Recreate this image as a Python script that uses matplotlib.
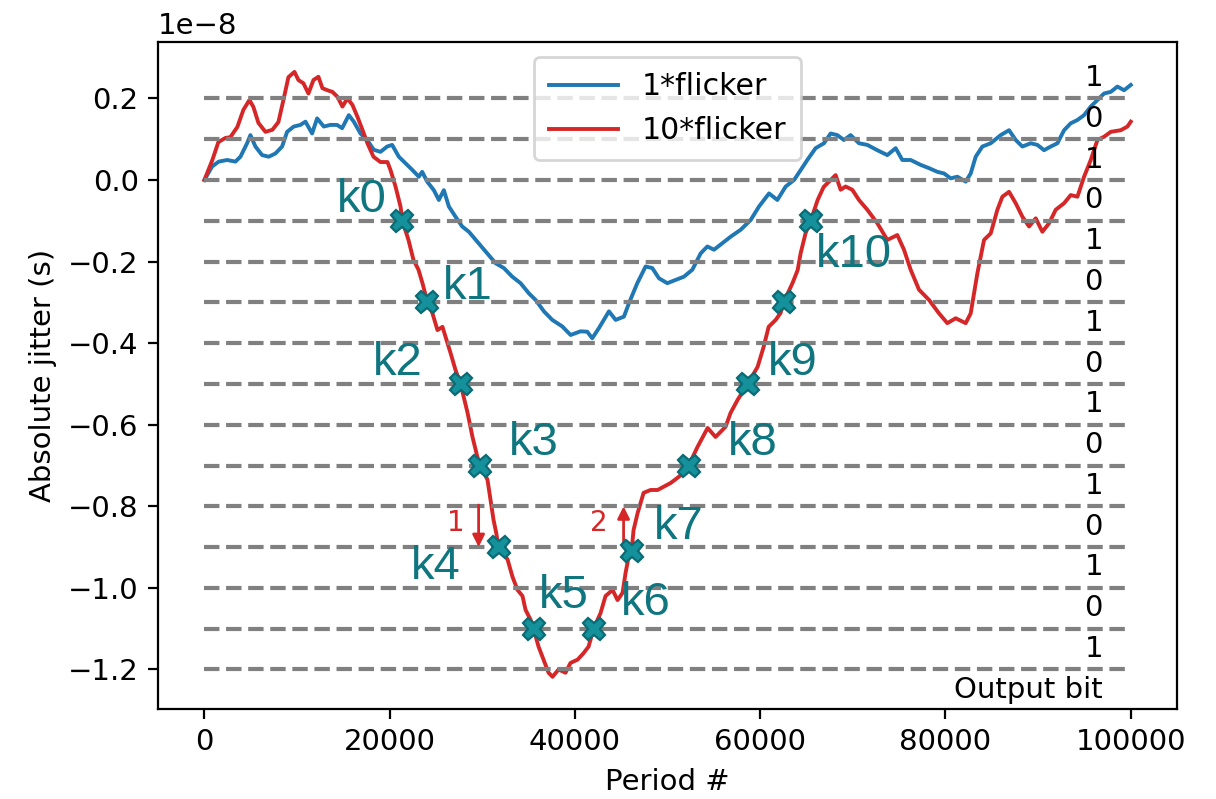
import matplotlib
matplotlib.use("Agg")
import matplotlib.pyplot as plt
import numpy as np

# jitter values are in units of 1e-8 s
UNIT = 1e-8

period_1x = [0, 828, 1548, 2448, 3348, 3888, 4608, 4968, 5508, 6228, 6948, 7668, 8388, 8928,
             9648, 10368, 10908, 11628, 12168, 12888, 13608, 14328, 14868, 15588, 16128, 16848,
             17568, 18288, 19008, 19728, 20268, 20988, 21708, 22428, 23148, 23508, 24048, 24768,
             25308, 25848, 26388, 27108, 27828, 28550, 29450, 30530, 31430, 32330, 33230, 34130,
             35030, 35750, 36650, 37550, 38630, 39530, 40610, 41328, 41868, 42590, 43670, 44390,
             45290, 45830, 46730, 47630, 48350, 49070, 49970, 50870, 51770, 52670, 53570, 54290,
             55010, 55910, 56810, 57890, 58970, 59870, 60950, 61850, 62750, 63650, 64360, 65080,
             65980, 66880, 67600, 68320, 69040, 69760, 70660, 71560, 72640, 73720, 74620, 75340,
             76240, 77320, 78220, 79120, 79840, 80560, 81280, 82180, 82720, 83260, 83980, 84880,
             85960, 86860, 87580, 88300, 89200, 89920, 90640, 91360, 92080, 92800, 93520, 94240,
             94960, 95680, 96400, 97120, 97840, 98560, 99280, 100000]
jitter_1x = [0.0, 0.033, 0.045, 0.049, 0.045, 0.057, 0.09, 0.11, 0.082, 0.061, 0.057, 0.065, 0.082,
             0.118, 0.131, 0.135, 0.143, 0.114, 0.151, 0.131, 0.135, 0.135, 0.127, 0.159, 0.143,
             0.114, 0.098, 0.074, 0.069, 0.082, 0.086, 0.057, 0.041, 0.025, 0.008, 0.02, -0.004,
             -0.025, -0.049, -0.025, -0.065, -0.09, -0.114, -0.127, -0.151, -0.18, -0.204, -0.216,
             -0.237, -0.253, -0.278, -0.294, -0.322, -0.343, -0.359, -0.38, -0.371, -0.372, -0.388,
             -0.363, -0.322, -0.343, -0.335, -0.302, -0.253, -0.212, -0.216, -0.241, -0.253,
             -0.245, -0.237, -0.22, -0.18, -0.163, -0.171, -0.155, -0.139, -0.122, -0.098, -0.065,
             -0.033, -0.049, -0.016, 0.0, 0.024, 0.049, 0.078, 0.09, 0.114, 0.11, 0.098, 0.11,
             0.09, 0.086, 0.073, 0.061, 0.078, 0.049, 0.049, 0.037, 0.029, 0.02, 0.016, 0.004,
             0.008, -0.004, 0.016, 0.057, 0.082, 0.09, 0.11, 0.122, 0.098, 0.082, 0.09, 0.086,
             0.073, 0.082, 0.09, 0.122, 0.139, 0.147, 0.159, 0.18, 0.196, 0.212, 0.216, 0.229,
             0.22, 0.233]

period_10x = [0, 860, 1510, 2270, 2800, 3560, 4210, 4860, 5290, 5830, 6590, 7340, 7990, 8530,
              9070, 9720, 10150, 10690, 11230, 11770, 12310, 12740, 13280, 13820, 14360, 14900,
              15440, 15980, 16520, 17060, 17600, 18250, 19000, 19760, 20080, 20630, 21170, 21370,
              22030, 22570, 23110, 23540, 24080, 24620, 25160, 25700, 26030, 26570, 27110, 27650,
              28400, 28940, 29480, 29800, 30560, 30890, 31210, 31500, 31750, 32720, 33260, 33800,
              34340, 34670, 35210, 35530, 36070, 36610, 37150, 37580, 38230, 38980, 39520, 40280,
              40930, 41470, 42010, 42760, 43300, 44060, 44600, 45140, 45460, 45790, 46110, 46330,
              46760, 47080, 47410, 48160, 48920, 49570, 50320, 51080, 51730, 52270, 53240, 54320,
              55180, 56260, 56800, 57560, 58640, 59720, 60370, 60910, 61670, 62200, 62530, 63500,
              64040, 64360, 64900, 65440, 66200, 66850, 67600, 68140, 68680, 69220, 69940, 70660,
              71560, 72640, 73720, 74800, 75520, 76240, 77140, 78220, 79300, 80200, 81100, 82180,
              82720, 83440, 84160, 84880, 85600, 86140, 86860, 87580, 88300, 89020, 89740, 90460,
              91180, 91900, 92800, 93520, 94240, 94960, 95680, 96400, 97120, 97840, 98920, 99640,
              100000]
jitter_10x = [0.0, 0.049, 0.093, 0.103, 0.105, 0.13, 0.172, 0.196, 0.179, 0.14, 0.118, 0.123,
              0.142, 0.196, 0.252, 0.265, 0.245, 0.237, 0.212, 0.245, 0.253, 0.225, 0.22, 0.216,
              0.204, 0.18, 0.2, 0.184, 0.155, 0.123, 0.09, 0.057, 0.044, 0.044, 0.025, -0.016,
              -0.065, -0.1, -0.147, -0.196, -0.22, -0.253, -0.3, -0.327, -0.368, -0.36, -0.384,
              -0.424, -0.466, -0.5, -0.57, -0.63, -0.68, -0.7, -0.735, -0.784, -0.833, -0.865,
              -0.9, -0.93, -0.973, -1.005, -1.02, -1.054, -1.078, -1.1, -1.144, -1.176, -1.208,
              -1.218, -1.2, -1.208, -1.184, -1.176, -1.16, -1.144, -1.1, -1.062, -1.02, -1.005,
              -1.03, -1.012, -0.964, -0.924, -0.91, -0.858, -0.817, -0.792, -0.767, -0.76, -0.76,
              -0.752, -0.743, -0.73, -0.718, -0.7, -0.654, -0.608, -0.63, -0.605, -0.571, -0.539,
              -0.5, -0.458, -0.409, -0.36, -0.343, -0.326, -0.3, -0.252, -0.221, -0.18, -0.13,
              -0.1, -0.049, -0.017, 0.0, 0.012, -0.024, -0.016, -0.024, -0.049, -0.073, -0.106,
              -0.147, -0.135, -0.171, -0.22, -0.269, -0.294, -0.327, -0.351, -0.339, -0.351,
              -0.327, -0.229, -0.147, -0.131, -0.073, -0.041, -0.029, -0.057, -0.09, -0.114,
              -0.094, -0.127, -0.106, -0.073, -0.057, -0.037, -0.041, 0.008, 0.049, 0.098, 0.106,
              0.118, 0.122, 0.131, 0.143]

# threshold crossings of the 10*flicker trace
key_period = [21370, 24080, 27650, 29800, 31750, 35530, 42010, 46110, 52270, 58640, 62530, 65440]
key_jitter = [-0.1, -0.3, -0.5, -0.7, -0.9, -1.1, -1.1, -0.91, -0.7, -0.5, -0.3, -0.1]
key_names = ["k0", "k1", "k2", "k3", "k4", "k5", "k6", "k7", "k8", "k9", "", "k10"]
# label anchor for each key (period, jitter)
key_label_at = [(16950, -0.05), (28400, -0.262), (20840, -0.449), (35530, -0.645),
                (24950, -0.948), (38770, -1.02), (47620, -1.037), (51190, -0.85),
                (59180, -0.645), (63500, -0.449), None, (70090, -0.184)]

thresholds = np.round(np.arange(-1.2, 0.21, 0.1), 2)
bit_levels = [0.25, 0.15, 0.05, -0.05, -0.15, -0.25, -0.35, -0.45, -0.55, -0.65, -0.75,
              -0.85, -0.95, -1.05, -1.15]
bit_values = ["1", "0", "1", "0", "1", "0", "1", "0", "1", "0", "1", "0", "1", "0", "1"]

BLUE = "#1f77b4"
RED = "#d62728"
TEAL = "#14919b"
TEAL_DARK = "#0b6b74"
TEAL_TEXT = "#0f7680"
GRAY = "#808080"

plt.rcParams["font.family"] = "DejaVu Sans"
fig = plt.figure(figsize=(6.08, 3.995), dpi=200)
ax = fig.add_axes([0.130, 0.1126, 0.838, 0.8347])

ax.plot(np.array(period_1x), np.array(jitter_1x) * UNIT, color=BLUE, lw=1.4,
        label="1*flicker", zorder=2)
ax.plot(np.array(period_10x), np.array(jitter_10x) * UNIT, color=RED, lw=1.4,
        label="10*flicker", zorder=2)

for th in thresholds:
    ax.plot([0, 100000], [th * UNIT, th * UNIT], color=GRAY, lw=1.5,
            ls=(0, (3.7, 1.6)), zorder=2.5)

ax.plot(key_period, np.array(key_jitter) * UNIT, ls="none", marker="X", markersize=8,
        markerfacecolor=TEAL, markeredgecolor=TEAL_DARK, markeredgewidth=0.8, zorder=4)
for name, pos in zip(key_names, key_label_at):
    if pos is None:
        continue
    ax.text(pos[0], pos[1] * UNIT, name, fontsize=17, color=TEAL_TEXT,
            family="Liberation Sans", ha="center", va="center", zorder=5)

for lvl, bit in zip(bit_levels, bit_values):
    ax.text(96000, lvl * UNIT, bit, fontsize=10.5, ha="center", va="center")
ax.text(97000, -1.25 * UNIT, "Output bit", fontsize=10.5, ha="right", va="center")

# direction arrows around k4 and k7
arrow_kw = dict(arrowstyle="-|>", color=RED, lw=1.0, mutation_scale=9, shrinkA=0, shrinkB=0)
ax.annotate("", xy=(29600, -0.9 * UNIT), xytext=(29600, -0.797 * UNIT), arrowprops=arrow_kw)
ax.annotate("", xy=(45250, -0.8 * UNIT), xytext=(45250, -0.9 * UNIT), arrowprops=arrow_kw)
ax.text(27100, -0.84 * UNIT, "1", color=RED, fontsize=10, ha="center", va="center")
ax.text(42550, -0.84 * UNIT, "2", color=RED, fontsize=10, ha="center", va="center")

ax.set_xlim(-5000, 105000)
ax.set_ylim(-1.297 * UNIT, 0.338 * UNIT)
ax.set_xticks([0, 20000, 40000, 60000, 80000, 100000])
ax.set_yticks(np.array([-1.2, -1.0, -0.8, -0.6, -0.4, -0.2, 0.0, 0.2]) * UNIT)
ax.tick_params(labelsize=10.5)
ax.yaxis.get_offset_text().set_fontsize(10.5)
ax.set_xlabel("Period #", fontsize=10.5)
ax.set_ylabel("Absolute jitter (s)", fontsize=10.5)
ax.legend(loc="upper center", fontsize=10.8, borderpad=0.5, handlelength=2.3)

fig.savefig("out.png", dpi=200)
